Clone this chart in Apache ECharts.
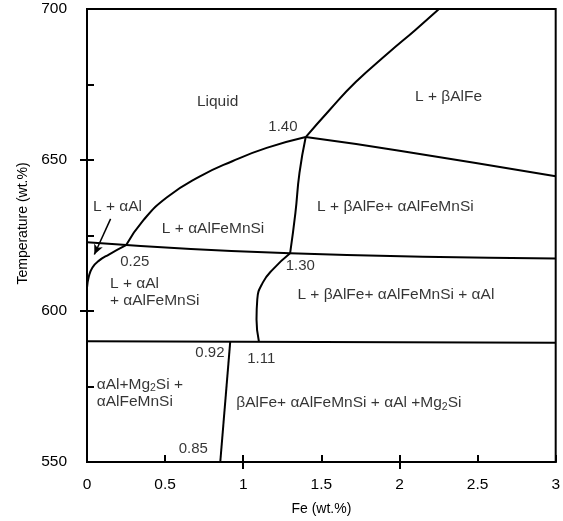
<!DOCTYPE html>
<html>
<head>
<meta charset="utf-8">
<script src="https://cdn.jsdelivr.net/npm/echarts@6/dist/echarts.min.js"></script>
<style>
html, body { margin: 0; padding: 0; background: #fff; }
#chart { width: 563px; height: 521px; }
</style>
</head>
<body>
<div id="chart"></div>
<script>
// tick labels
var xTickLabels = ['0', '0.5', '1', '1.5', '2', '2.5', '3'];
var yTickLabels = ['550', '600', '650', '700'];

// phase boundaries, [Fe wt.%, temperature]
var eutectic590 = [[0, 590], [3, 589.5]];
var line620 = [[0, 622.8], [1.30, 619.1], [3, 617.4]];
var liquidusAl = [[0, 607.7], [0.012, 611.5], [0.035, 614.4], [0.075, 616.6], [0.14, 618.7], [0.25, 621.8]];
var liquidusAlFeMnSi = [[0.25, 621.8], [0.36, 630.0], [0.51, 637.6], [0.72, 644.5], [0.93, 649.6], [1.15, 654.0], [1.40, 657.6]];
var liquidusBetaAlFe = [[1.40, 657.6], [1.55, 666.4], [1.72, 675.8], [1.93, 685.5], [2.10, 693.0], [2.253, 700]];
var betaRight = [[1.40, 657.6], [2.0, 653.1], [3, 644.6]];
var line140to130 = [[1.40, 657.6], [1.36, 645.7], [1.334, 632.5], [1.30, 619.1]];
var line130to111 = [[1.30, 619.1], [1.19, 613.8], [1.125, 609.4], [1.09, 603.9], [1.085, 597.2], [1.10, 590]];
var line092to085 = [[0.917, 590], [0.853, 550]];

var arrowFrom = [0.151, 630.5];
var arrowTo = [0.047, 618.7];

// region names: [Fe, T, text]
var regionLabels = [
    [0.836, 669.3, 'Liquid'],
    [2.314, 670.9, 'L + βAlFe'],
    [0.195, 634.4, 'L + αAl'],
    [0.807, 627.3, 'L + αAlFeMnSi'],
    [1.974, 634.4, 'L + βAlFe+ αAlFeMnSi'],
    [1.977, 605.3, 'L + βAlFe+ αAlFeMnSi + αAl'],
    [1.676, 569.5, 'βAlFe+ αAlFeMnSi + αAl +Mg{sub|2}Si']
];
// composition marks: [Fe, T, text]
var pointLabels = [
    [1.254, 661.0, '1.40'],
    [0.306, 616.2, '0.25'],
    [1.365, 614.9, '1.30'],
    [0.787, 586.0, '0.92'],
    [1.115, 584.0, '1.11'],
    [0.68, 554.3, '0.85']
];
// two-line region names, left aligned: [Fe, T, text]
var leftLabels = [
    [0.147, 606.2, 'L + αAl\n+ αAlFeMnSi'],
    [0.062, 572.8, 'αAl+Mg{sub|2}Si +\nαAlFeMnSi']
];

var font = "'Liberation Sans', Arial, sans-serif";
var black = '#000';

function boundary(data) {
    return {
        type: 'line',
        data: data,
        smooth: 0.5,
        symbol: 'none',
        silent: true,
        lineStyle: { color: black, width: 2 }
    };
}

function textSeries(list, size, left) {
    return {
        type: 'scatter',
        symbolSize: 0,
        silent: true,
        data: list.map(function (d) { return { value: [d[0], d[1]], name: d[2] }; }),
        label: {
            show: true,
            position: left ? 'right' : 'inside',
            distance: 0,
            align: left ? 'left' : 'center',
            formatter: function (p) { return p.name; },
            color: black,
            fontSize: size,
            lineHeight: 17,
            fontFamily: font,
            rich: { sub: { fontSize: 10.5, fontFamily: font, color: black, padding: [7, 0, 0, 0] } }
        }
    };
}

var chart = echarts.init(document.getElementById('chart'), null, { renderer: 'canvas' });

var series = [
    eutectic590, line620, liquidusAl, liquidusAlFeMnSi, liquidusBetaAlFe,
    betaRight, line140to130, line130to111, line092to085
].map(boundary);

series.push({
    type: 'line',
    data: [],
    silent: true,
    markLine: {
        silent: true,
        symbol: ['none', 'arrow'],
        symbolSize: [7, 10],
        label: { show: false },
        lineStyle: { color: black, width: 1.5, type: 'solid' },
        data: [[{ coord: arrowFrom }, { coord: arrowTo }]]
    }
});

series.push(textSeries(regionLabels, 15.5, false));
series.push(textSeries(pointLabels, 15, false));
series.push(textSeries(leftLabels, 15.5, true));

var option = {
    animation: false,
    backgroundColor: '#fff',
    grid: {
        left: 87, right: 6, top: 9, bottom: 58,
        show: true, borderColor: black, borderWidth: 2
    },
    xAxis: [{
        type: 'value', min: 0, max: 3, interval: 0.5,
        name: 'Fe (wt.%)', nameLocation: 'middle', nameGap: 40,
        nameTextStyle: { color: black, fontSize: 14, fontFamily: font },
        axisLine: { show: true, lineStyle: { color: black, width: 2 } },
        axisTick: { show: true, inside: true, length: 7, lineStyle: { color: black, width: 2 } },
        axisLabel: {
            color: black, fontSize: 15.5, fontFamily: font, margin: 15,
            formatter: function (v) { return xTickLabels[Math.round(v / 0.5)]; }
        },
        splitLine: { show: false }
    }, {
        type: 'value', min: 0, max: 3, position: 'bottom',
        axisLine: { show: false },
        axisTick: { show: true, inside: false, length: 7, customValues: [1, 2], lineStyle: { color: black, width: 2 } },
        axisLabel: { show: false },
        splitLine: { show: false }
    }],
    yAxis: [{
        type: 'value', min: 550, max: 700, interval: 25,
        name: 'Temperature (wt.%)', nameLocation: 'middle', nameGap: 55,
        nameTextStyle: { color: black, fontSize: 14, fontFamily: font, padding: [0, 0, 0, 24] },
        axisLine: { show: true, lineStyle: { color: black, width: 2 } },
        axisTick: { show: true, inside: true, length: 7, lineStyle: { color: black, width: 2 } },
        axisLabel: {
            color: black, fontSize: 15.5, fontFamily: font, margin: 20,
            formatter: function (v) {
                var s = String(v);
                return yTickLabels.indexOf(s) >= 0 ? s : '';
            }
        },
        splitLine: { show: false }
    }, {
        type: 'value', min: 550, max: 700, position: 'left',
        axisLine: { show: false },
        axisTick: { show: true, inside: false, length: 7, customValues: [600, 650], lineStyle: { color: black, width: 2 } },
        axisLabel: { show: false },
        splitLine: { show: false }
    }],
    series: series
};

chart.setOption(option);
</script>
</body>
</html>
